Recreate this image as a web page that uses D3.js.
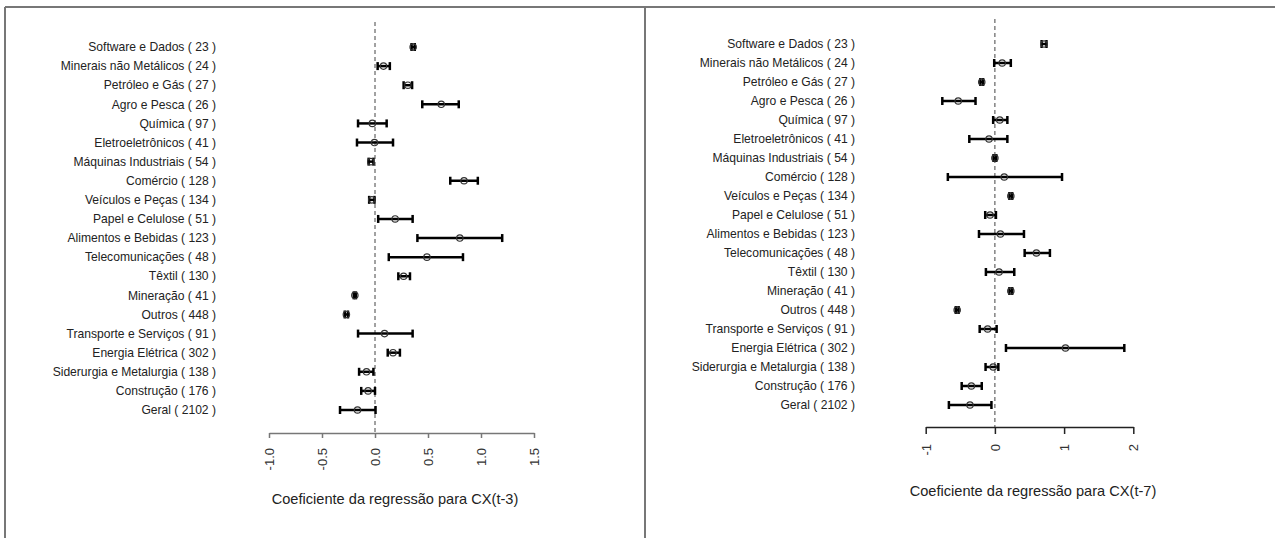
<!DOCTYPE html>
<html>
<head>
<meta charset="utf-8">
<script src="https://cdn.jsdelivr.net/npm/d3@7"></script>
<style>
body{margin:0;background:#fff}
text{font-family:"Liberation Sans",Arial,sans-serif}
</style>
</head>
<body>
<svg class="chart" width="1275" height="538"></svg>
<script>
var categories = ["Software e Dados ( 23 )","Minerais não Metálicos ( 24 )","Petróleo e Gás ( 27 )","Agro e Pesca ( 26 )","Química ( 97 )","Eletroeletrônicos ( 41 )","Máquinas Industriais ( 54 )","Comércio ( 128 )","Veículos e Peças ( 134 )","Papel e Celulose ( 51 )","Alimentos e Bebidas ( 123 )","Telecomunicações ( 48 )","Têxtil ( 130 )","Mineração ( 41 )","Outros ( 448 )","Transporte e Serviços ( 91 )","Energia Elétrica ( 302 )","Siderurgia e Metalurgia ( 138 )","Construção ( 176 )","Geral ( 2102 )"]

// CX(t-3)
var est3 = [0.36,0.08,0.31,0.625,-0.025,-0.005,-0.04,0.84,-0.03,0.19,0.80,0.49,0.27,-0.19,-0.27,0.09,0.17,-0.08,-0.065,-0.165]
var lo3  = [0.345,0.025,0.27,0.446,-0.16,-0.17,-0.06,0.71,-0.055,0.03,0.40,0.13,0.22,-0.2,-0.285,-0.16,0.12,-0.15,-0.13,-0.33]
var hi3  = [0.375,0.14,0.35,0.79,0.11,0.17,-0.015,0.97,-0.005,0.355,1.20,0.83,0.33,-0.18,-0.255,0.355,0.235,-0.015,0.0,0.005]
var ticks3 = [-1.0,-0.5,0.0,0.5,1.0,1.5]

// CX(t-7)
var est7 = [0.71,0.105,-0.19,-0.53,0.07,-0.085,0.0,0.135,0.23,-0.07,0.08,0.60,0.06,0.23,-0.545,-0.105,1.02,-0.025,-0.34,-0.36]
var lo7  = [0.675,-0.01,-0.21,-0.76,-0.025,-0.37,-0.02,-0.68,0.21,-0.14,-0.23,0.43,-0.13,0.21,-0.565,-0.22,0.16,-0.135,-0.48,-0.665]
var hi7  = [0.745,0.23,-0.17,-0.28,0.18,0.18,0.02,0.97,0.25,0.015,0.42,0.795,0.28,0.25,-0.525,0.025,1.87,0.05,-0.19,-0.05]
var ticks7 = [-1,0,1,2]

var svg = d3.select(".chart")

// frame
svg.append("line").attr("x1",5).attr("x2",1275).attr("y1",7).attr("y2",7).attr("stroke","#777").attr("stroke-width",2)
svg.append("line").attr("x1",5).attr("x2",5).attr("y1",7).attr("y2",538).attr("stroke","#777").attr("stroke-width",2)
svg.append("line").attr("x1",645).attr("x2",645).attr("y1",7).attr("y2",538).attr("stroke","#777").attr("stroke-width",2)

function panel(p){
	var g = svg.append("g")
	var x = d3.scaleLinear().domain(p.domain).range(p.xrange)
	var y = d3.scalePoint().domain(categories).range(p.yrange)

	// reference line at zero
	g.append("line").attr("x1",x(0)).attr("x2",x(0)).attr("y1",p.top).attr("y2",p.axisY)
		.attr("stroke","#444").attr("stroke-width",1).attr("stroke-dasharray","4,3")

	// category labels
	g.selectAll(".lab").data(categories).enter().append("text")
		.attr("x",p.labelX).attr("y",function(d){return y(d)}).attr("dy","0.35em")
		.attr("text-anchor","end").attr("font-size",12.1).attr("fill","#222")
		.text(function(d){return d})

	// error bars
	var rows = categories.map(function(c,i){return {c:c,e:p.est[i],lo:p.lo[i],hi:p.hi[i]}})
	var bars = g.selectAll(".bar").data(rows).enter().append("g")
	bars.append("line").attr("x1",function(d){return x(d.lo)}).attr("x2",function(d){return x(d.hi)})
		.attr("y1",function(d){return y(d.c)}).attr("y2",function(d){return y(d.c)})
		.attr("stroke","#000").attr("stroke-width",2.5)
	;["lo","hi"].forEach(function(k){
		bars.append("line").attr("x1",function(d){return x(d[k])}).attr("x2",function(d){return x(d[k])})
			.attr("y1",function(d){return y(d.c)-4}).attr("y2",function(d){return y(d.c)+4})
			.attr("stroke","#000").attr("stroke-width",2.5)
	})
	bars.append("circle").attr("cx",function(d){return x(d.e)}).attr("cy",function(d){return y(d.c)})
		.attr("r",3.2).attr("fill","none").attr("stroke","#333").attr("stroke-width",1.2)

	// x axis
	var ax = g.append("g").attr("transform","translate(0,"+p.axisY+")")
		.call(d3.axisBottom(x).tickValues(p.ticks).tickSize(p.tickLen).tickSizeOuter(0).tickFormat(p.fmt))
	ax.select(".domain").attr("stroke",p.axisColor).attr("stroke-width",1.5)
	ax.selectAll(".tick line").attr("stroke",p.axisColor).attr("stroke-width",1.5)
	ax.selectAll(".tick text").attr("transform","rotate(-90)").attr("text-anchor","end")
		.attr("x",-(p.tickLen+10)).attr("y",0).attr("dy","0.35em")
		.attr("font-size",13).attr("fill","#333")

	g.append("text").attr("x",p.titleX).attr("y",p.titleY).attr("text-anchor","middle")
		.attr("font-size",14.6).attr("fill","#222").text(p.title)
}

panel({domain:[-1,1.5],xrange:[269,534],yrange:[47,410],top:22,axisY:433,tickLen:5,
	labelX:216,ticks:ticks3,fmt:function(d){return d.toFixed(1)},axisColor:"#777",
	est:est3,lo:lo3,hi:hi3,title:"Coeficiente da regressão para CX(t-3)",titleX:395,titleY:504})

panel({domain:[-1,2],xrange:[925.7,1133.3],yrange:[44,405],top:19,axisY:427,tickLen:7,
	labelX:855,ticks:ticks7,fmt:function(d){return String(d)},axisColor:"#222",
	est:est7,lo:lo7,hi:hi7,title:"Coeficiente da regressão para CX(t-7)",titleX:1033,titleY:496})
</script>
</body>
</html>
